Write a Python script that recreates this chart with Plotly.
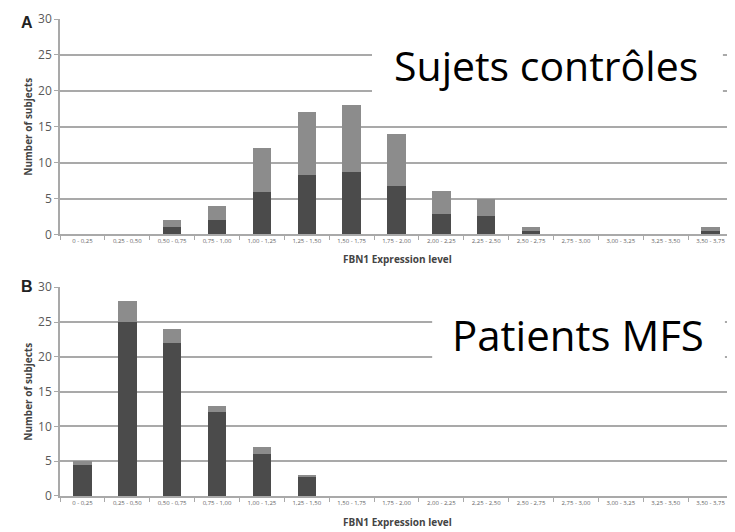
import plotly.graph_objects as go
from plotly.subplots import make_subplots

categories = ["0 - 0,25", "0,25 - 0,50", "0,50 - 0,75", "0,75 - 1,00", "1,00 - 1,25",
              "1,25 - 1,50", "1,50 - 1,75", "1,75 - 2,00", "2,00 - 2,25", "2,25 - 2,50",
              "2,50 - 2,75", "2,75 - 3,00", "3,00 - 3,25", "3,25 - 3,50", "3,50 - 3,75"]

# Panel A (controls): dark lower segment and light upper segment
ctrl_dark = [0, 0, 1, 2, 5.9, 8.3, 8.7, 6.8, 2.9, 2.5, 0.5, 0, 0, 0, 0.5]
ctrl_total = [0, 0, 2, 4, 12, 17, 18, 14, 6, 5, 1, 0, 0, 0, 1]
ctrl_light = [t - d for t, d in zip(ctrl_total, ctrl_dark)]

# Panel B (MFS patients)
mfs_dark = [4.5, 25, 22, 12, 6.1, 2.8, 0, 0, 0, 0, 0, 0, 0, 0, 0]
mfs_total = [5, 28, 24, 13, 7, 3, 0, 0, 0, 0, 0, 0, 0, 0, 0]
mfs_light = [t - d for t, d in zip(mfs_total, mfs_dark)]

DARK = "#4b4b4b"
LIGHT = "#8c8c8c"
GRID = "#a9a9a9"

fig = make_subplots(rows=2, cols=1, vertical_spacing=0.11)

for row, dark, light in [(1, ctrl_dark, ctrl_light), (2, mfs_dark, mfs_light)]:
    fig.add_trace(go.Bar(x=categories, y=dark, marker=dict(color=DARK, line=dict(width=0)),
                         width=0.41, showlegend=False), row=row, col=1)
    fig.add_trace(go.Bar(x=categories, y=light, marker=dict(color=LIGHT, line=dict(width=0)),
                         width=0.41, showlegend=False), row=row, col=1)

# page body has an 8px margin, so the figure is 8px smaller than the window
fig.update_layout(
    barmode="stack",
    width=727, height=524,
    margin=dict(l=52, r=2, t=2, b=36),
    paper_bgcolor="white", plot_bgcolor="white",
    font=dict(family="Open Sans, sans-serif", color="#555555"),
)

fig.update_yaxes(range=[0, 30], dtick=5, showgrid=True, gridcolor=GRID, gridwidth=1.5,
                 showline=True, linecolor=GRID, linewidth=1.5, ticks="outside",
                 ticklen=4, tickcolor=GRID, tickfont=dict(size=12, color="#595959"),
                 zeroline=False)
fig.update_xaxes(showline=True, linecolor=GRID, linewidth=1.5, ticks="outside",
                 tickson="boundaries", ticklen=4, tickcolor=GRID,
                 tickfont=dict(size=6, color="#666666"), tickangle=0, showgrid=False)

fig.update_layout(yaxis=dict(domain=[0.5484, 1.0]), yaxis2=dict(domain=[0.0, 0.4377]))

# white boxes behind big labels
fig.add_shape(type="rect", xref="x domain", yref="y", x0=0.4636, x1=0.985, y0=16.5, y1=28.3,
              fillcolor="white", line=dict(width=0), layer="above")
fig.add_shape(type="rect", xref="x2 domain", yref="y2", x0=0.553, x1=0.988, y0=17.0, y1=28.0,
              fillcolor="white", line=dict(width=0), layer="above")

def py(screen_y):
    return 1 - (screen_y - 10) / 486

annos = [
    dict(text="Sujets contrôles", x=(546 - 60) / 673, y=py(57), xref="paper", yref="paper",
         font=dict(size=41, color="black", family="Open Sans, sans-serif")),
    dict(text="Patients MFS", x=(578 - 60) / 673, y=py(331), xref="paper", yref="paper",
         font=dict(size=42, color="black", family="Open Sans, sans-serif")),
    dict(text="<b>A</b>", x=-0.049, y=py(14), xref="paper", yref="paper",
         font=dict(size=16, color="#222222", family="Liberation Sans, sans-serif")),
    dict(text="<b>B</b>", x=-0.049, y=py(283), xref="paper", yref="paper",
         font=dict(size=16, color="#222222", family="Liberation Sans, sans-serif")),
    dict(text="<b>Number of subjects</b>", x=-0.048, y=py(120), xref="paper", yref="paper",
         textangle=-90, font=dict(size=10, color="#444444")),
    dict(text="<b>Number of subjects</b>", x=-0.048, y=py(390), xref="paper", yref="paper",
         textangle=-90, font=dict(size=10, color="#444444")),
    dict(text="<b>FBN1 Expression level</b>", x=(397 - 60) / 673, y=py(255), xref="paper", yref="paper",
         font=dict(size=10, color="#444444")),
    dict(text="<b>FBN1 Expression level</b>", x=(397 - 60) / 673, y=py(522), xref="paper", yref="paper",
         font=dict(size=10, color="#444444")),
]
for a in annos:
    a.update(showarrow=False, xanchor="center", yanchor="middle")
    fig.add_annotation(**a)

fig.write_html("out.html")
